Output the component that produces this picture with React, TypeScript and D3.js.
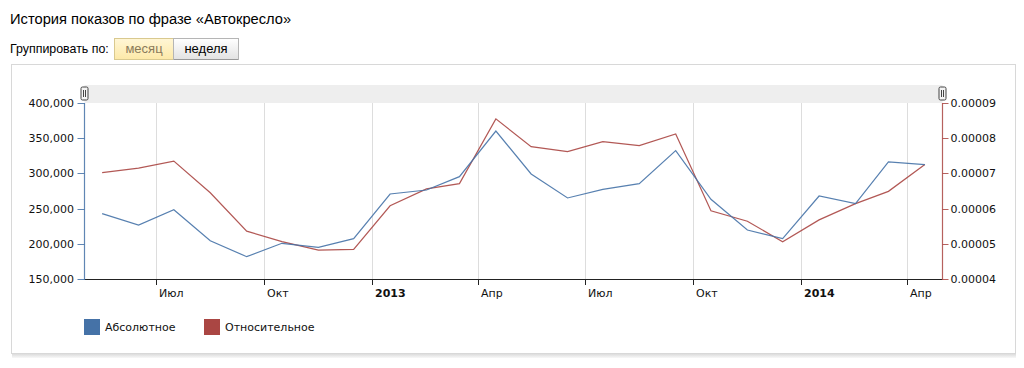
import React from "react";
import * as d3 from "d3";

const months: string[] = [
  "2012-05", "2012-06", "2012-07", "2012-08", "2012-09", "2012-10", "2012-11", "2012-12",
  "2013-01", "2013-02", "2013-03", "2013-04", "2013-05", "2013-06", "2013-07", "2013-08",
  "2013-09", "2013-10", "2013-11", "2013-12", "2014-01", "2014-02", "2014-03", "2014-04",
];
const absoluteValues: number[] = [
  242800, 226700, 248400, 204400, 181700, 200700, 195000, 207300,
  270700, 276400, 295400, 360200, 299200, 265100, 277400, 285400,
  332300, 263200, 219600, 207300, 267900, 257000, 316200, 312400,
];
const relativeValues: number[] = [
  0.0000702, 0.0000715, 0.0000735, 0.0000645, 0.0000536, 0.0000506, 0.0000482, 0.0000484,
  0.0000608, 0.0000656, 0.0000671, 0.0000855, 0.0000776, 0.0000762, 0.0000790, 0.0000779,
  0.0000812, 0.0000594, 0.0000564, 0.0000506, 0.0000568, 0.0000614, 0.0000649, 0.0000725,
];
const leftTicks: number[] = [150000, 200000, 250000, 300000, 350000, 400000];
const rightTicks: number[] = [0.00004, 0.00005, 0.00006, 0.00007, 0.00008, 0.00009];
const xTickDates: string[] = ["2012-07-01", "2012-10-01", "2013-01-01", "2013-04-01", "2013-07-01", "2013-10-01", "2014-01-01", "2014-04-01"];
const xTickLabels: string[] = ["Июл", "Окт", "2013", "Апр", "Июл", "Окт", "2014", "Апр"];
const xTickBold: boolean[] = [false, false, true, false, false, false, true, false];
const seriesNames: string[] = ["Абсолютное", "Относительное"];

const BLUE = "#4572A7";
const RED = "#AA4643";

const parseDay = d3.utcParse("%Y-%m-%d");
const parseMonth = d3.utcParse("%Y-%m");

export default function App() {
  const W = 1024, H = 368;
  const left = 84.5, right = 942.5, top = 103, bottom = 279;

  const x = d3.scaleUtc()
    .domain([parseDay("2012-05-01")!, parseDay("2014-05-01")!])
    .range([left, right]);
  const yL = d3.scaleLinear().domain([150000, 400000]).range([bottom, top]);
  const yR = d3.scaleLinear().domain([0.00004, 0.00009]).range([bottom, top]);

  const pts = months.map((m) => d3.utcDay.offset(parseMonth(m)!, 15));

  const lineA = d3.line<number>()
    .x((_, i) => x(pts[i]))
    .y((d) => yL(d));
  const lineR = d3.line<number>()
    .x((_, i) => x(pts[i]))
    .y((d) => yR(d));

  const fmtL = d3.format(",");
  const fmtR = (v: number) => v.toFixed(5);

  const tickFont = "'DejaVu Sans', Verdana, sans-serif";
  const uiFont = "'Liberation Sans', Arial, sans-serif";

  const handle = (cx: number) => (
    <g>
      <rect x={cx - 3.5} y={87} width={7} height={13} rx={1.5} fill="#f4f4f4" stroke="#444" strokeWidth={1} />
      <line x1={cx - 1} x2={cx - 1} y1={90} y2={97} stroke="#444" strokeWidth={1} />
      <line x1={cx + 1} x2={cx + 1} y1={90} y2={97} stroke="#444" strokeWidth={1} />
    </g>
  );

  return (
    <svg width={W} height={H} style={{ position: "absolute", left: 0, top: 0, background: "#fff" }}>
      <defs>
        <linearGradient id="btnGray" x1="0" y1="0" x2="0" y2="1">
          <stop offset="0" stopColor="#ffffff" />
          <stop offset="1" stopColor="#e2e2e2" />
        </linearGradient>
        <linearGradient id="btnYellow" x1="0" y1="0" x2="0" y2="1">
          <stop offset="0" stopColor="#fff6d6" />
          <stop offset="1" stopColor="#fde9a8" />
        </linearGradient>
        <linearGradient id="shadow" x1="0" y1="0" x2="0" y2="1">
          <stop offset="0" stopColor="#dcdcdc" />
          <stop offset="1" stopColor="#f8f8f8" />
        </linearGradient>
      </defs>
      <text x={10} y={24} fontFamily={uiFont} fontSize={14.7} fill="#000">
        История показов по фразе «Автокресло»
      </text>
      <text x={10} y={53} fontFamily={uiFont} fontSize={12.4} fill="#000">
        Группировать по:
      </text>
      <rect x={114.5} y={38.5} width={59} height={21} fill="url(#btnYellow)" stroke="#d9c98f" />
      <text x={144} y={53} textAnchor="middle" fontFamily={uiFont} fontSize={13} fill="#8a7a5a">месяц</text>
      <rect x={173.5} y={38.5} width={65} height={21} fill="url(#btnGray)" stroke="#b5b5b5" />
      <line x1={174} x2={238} y1={59.5} y2={59.5} stroke="#999" />
      <text x={206} y={53} textAnchor="middle" fontFamily={uiFont} fontSize={13} fill="#000">неделя</text>

      {/* panel */}
      <rect x={12} y={354} width={1004} height={4} fill="url(#shadow)" />
      <rect x={11.5} y={64.5} width={1004} height={289} fill="#fff" stroke="#d8d8d8" />

      {/* scroller band */}
      <rect x={left} y={85} width={right - left} height={18} fill="#eeeeee" />

      {/* grid */}
      {xTickDates.map((d, i) => {
        const xx = Math.round(x(parseDay(d)!)) + 0.5;
        return <line key={"g" + i} x1={xx} x2={xx} y1={top} y2={bottom} stroke="#dddddd" strokeWidth={1} />;
      })}

      {/* x axis */}
      <line x1={left} x2={right} y1={bottom + 0.5} y2={bottom + 0.5} stroke="#222" strokeWidth={1} />
      {xTickDates.map((d, i) => {
        const xx = Math.round(x(parseDay(d)!)) + 0.5;
        return (
          <g key={"xt" + i}>
            <line x1={xx} x2={xx} y1={bottom} y2={bottom + 6} stroke="#222" strokeWidth={1} />
            <text x={xx + 2.5} y={297} fontFamily={tickFont} fontSize={11} fontWeight={xTickBold[i] ? "bold" : "normal"} fill="#111">
              {xTickLabels[i]}
            </text>
          </g>
        );
      })}

      {/* left axis */}
      <line x1={left} x2={left} y1={top} y2={bottom + 1} stroke={BLUE} strokeWidth={1.2} opacity={0.85} />
      {leftTicks.map((t, i) => (
        <g key={"lt" + i}>
          <line x1={left - 7} x2={left} y1={Math.round(yL(t)) + 0.5} y2={Math.round(yL(t)) + 0.5} stroke={BLUE} opacity={0.85} />
          <text x={74} y={yL(t) + 4} textAnchor="end" fontFamily={tickFont} fontSize={11} fill="#111">{fmtL(t)}</text>
        </g>
      ))}

      {/* right axis */}
      <line x1={right} x2={right} y1={top} y2={bottom + 1} stroke={RED} strokeWidth={1.2} opacity={0.85} />
      {rightTicks.map((t, i) => (
        <g key={"rt" + i}>
          <line x1={right} x2={right + 6} y1={Math.round(yR(t)) + 0.5} y2={Math.round(yR(t)) + 0.5} stroke={RED} opacity={0.85} />
          <text x={right + 8} y={yR(t) + 4} fontFamily={tickFont} fontSize={11} fill="#111">{fmtR(t)}</text>
        </g>
      ))}

      {/* lines */}
      <path d={lineR(relativeValues) || ""} fill="none" stroke={RED} strokeWidth={1.2} opacity={0.9} />
      <path d={lineA(absoluteValues) || ""} fill="none" stroke={BLUE} strokeWidth={1.2} opacity={0.9} />

      {handle(84.5)}
      {handle(942.5)}

      {/* legend */}
      <rect x={84} y={319} width={16} height={16} fill={BLUE} />
      <text x={105} y={331} fontFamily={tickFont} fontSize={11} fill="#111">{seriesNames[0]}</text>
      <rect x={204} y={319} width={16} height={16} fill={RED} />
      <text x={225} y={331} fontFamily={tickFont} fontSize={11} fill="#111">{seriesNames[1]}</text>
    </svg>
  );
}
